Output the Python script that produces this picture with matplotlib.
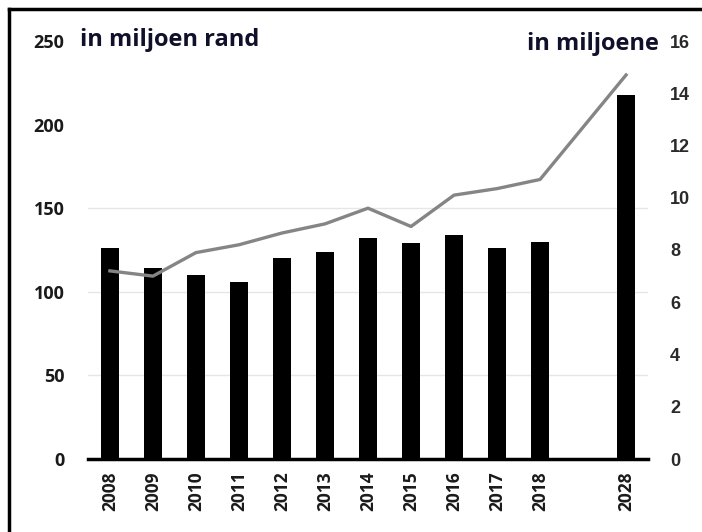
import numpy as np
import matplotlib.pyplot as plt
from matplotlib.lines import Line2D

years = ['2008', '2009', '2010', '2011', '2012', '2013', '2014',
         '2015', '2016', '2017', '2018', '2028']
positions = [0, 1, 2, 3, 4, 5, 6, 7, 8, 9, 10, 12]
rand_values = [126, 114, 110, 106, 120, 124, 132, 129, 134, 126, 130, 218]  # bars, left axis
miljoene = [7.2, 7.0, 7.9, 8.2, 8.65, 9.0, 9.6, 8.9, 10.1, 10.35, 10.7, 14.7]  # line, right axis

left_ticks = [0, 50, 100, 150, 200, 250]
right_ticks = [0, 2, 4, 6, 8, 10, 12, 14, 16]
grid_values = [50, 100, 150]

fig = plt.figure(figsize=(7.02, 5.32), dpi=100)
ax = fig.add_axes([88 / 702, 1 - 459 / 532, 560 / 702, 418 / 532])
ax2 = ax.twinx()

ax.bar(positions, rand_values, width=0.4, color='black', zorder=2)
for g in grid_values:
    ax.axhline(g, color='#e6e6e6', linewidth=1, zorder=1)

ax2.plot(positions, miljoene, color='#858585', linewidth=2.4, zorder=3)

ax.set_xlim(-0.51, 12.51)
ax.set_ylim(0, 250)
ax2.set_ylim(0, 16)

ax.set_yticks(left_ticks)
ax.set_yticklabels([str(t) for t in left_ticks], family='Open Sans',
                   fontweight='bold', fontsize=13, color='#1a1a1a')
ax2.set_yticks(right_ticks)
ax2.set_yticklabels([str(t) for t in right_ticks], family='Liberation Sans',
                    fontweight='bold', fontsize=13, color='#2a2a2a')
ax.set_xticks(positions)
ax.set_xticklabels(years, rotation=90, family='Open Sans',
                   fontweight='bold', fontsize=12.5, color='#1a1a1a')

ax.tick_params(axis='y', length=0, pad=17)
ax2.tick_params(axis='y', length=0, pad=16)
ax.tick_params(axis='x', length=0, pad=9)

for a in (ax, ax2):
    for side in ('left', 'right', 'top'):
        a.spines[side].set_visible(False)
ax2.spines['bottom'].set_visible(False)
ax.spines['bottom'].set_linewidth(2.5)

fig.text(80 / 702, 1 - 46 / 532, 'in miljoen rand', family='Open Sans',
         fontweight='bold', fontsize=17, color='#10102a', ha='left', va='baseline')
fig.text(659 / 702, 1 - 50 / 532, 'in miljoene', family='Open Sans',
         fontweight='bold', fontsize=17, color='#10102a', ha='right', va='baseline')

# frame around the picture (left and top edges)
fig.add_artist(Line2D([9 / 702, 9 / 702], [0, 1 - 9 / 532], color='black',
                      linewidth=2.5, transform=fig.transFigure))
fig.add_artist(Line2D([9 / 702, 1], [1 - 9 / 532, 1 - 9 / 532], color='black',
                      linewidth=2.5, transform=fig.transFigure))

fig.savefig('out.png', dpi=100)
